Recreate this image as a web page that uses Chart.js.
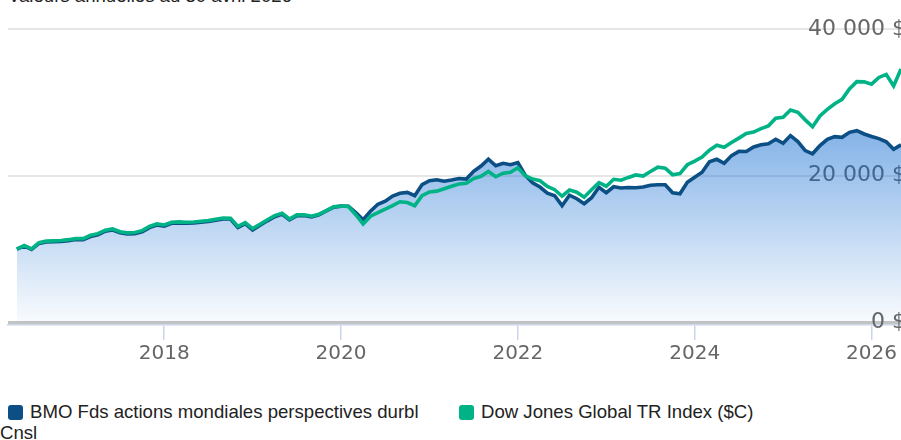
<!DOCTYPE html>
<html><head><meta charset="utf-8">
<script src="https://cdn.jsdelivr.net/npm/chart.js@4"></script>
<style>
html,body{margin:0;padding:0;width:901px;height:440px;overflow:hidden;background:#fff;font-family:"Liberation Sans",Arial,sans-serif;}
#title{position:absolute;left:8px;top:-15px;font-size:18.6px;line-height:21px;color:#222;white-space:nowrap}
#wrap{position:absolute;left:0;top:0;width:901px;height:368px}
#legend{position:absolute;left:0;top:401px;width:901px;font-size:18.6px;color:#222;line-height:21px}
.item{position:absolute;top:0;width:450px}
.box{display:inline-block;width:15px;height:15px;border-radius:3px;margin-left:8px;margin-right:7px;vertical-align:-2px}
</style></head>
<body>
<div id="title">Valeurs annuelles au 30 avril 2026</div>
<div id="wrap"><canvas id="c"></canvas></div>
<div id="legend"></div>
<script>
const months = [
 '2016-04','2016-05','2016-06','2016-07','2016-08','2016-09','2016-10','2016-11','2016-12',
 '2017-01','2017-02','2017-03','2017-04','2017-05','2017-06','2017-07','2017-08','2017-09','2017-10','2017-11','2017-12',
 '2018-01','2018-02','2018-03','2018-04','2018-05','2018-06','2018-07','2018-08','2018-09','2018-10','2018-11','2018-12',
 '2019-01','2019-02','2019-03','2019-04','2019-05','2019-06','2019-07','2019-08','2019-09','2019-10','2019-11','2019-12',
 '2020-01','2020-02','2020-03','2020-04','2020-05','2020-06','2020-07','2020-08','2020-09','2020-10','2020-11','2020-12',
 '2021-01','2021-02','2021-03','2021-04','2021-05','2021-06','2021-07','2021-08','2021-09','2021-10','2021-11','2021-12',
 '2022-01','2022-02','2022-03','2022-04','2022-05','2022-06','2022-07','2022-08','2022-09','2022-10','2022-11','2022-12',
 '2023-01','2023-02','2023-03','2023-04','2023-05','2023-06','2023-07','2023-08','2023-09','2023-10','2023-11','2023-12',
 '2024-01','2024-02','2024-03','2024-04','2024-05','2024-06','2024-07','2024-08','2024-09','2024-10','2024-11','2024-12',
 '2025-01','2025-02','2025-03','2025-04','2025-05','2025-06','2025-07','2025-08','2025-09','2025-10','2025-11','2025-12',
 '2026-01','2026-02','2026-03','2026-04'
];
const seriesNames = ['BMO Fds actions mondiales perspectives durbl Cnsl', 'Dow Jones Global TR Index ($C)'];
const seriesColors = ['#0b4f85', '#00b386'];
const fundValues = [
 10000,10420,9950,10780,10980,11020,11060,11160,11300,11300,
 11720,11950,12440,12600,12220,12060,12100,12360,12930,13280,
 13120,13520,13560,13520,13560,13680,13760,13950,14120,14100,
 12950,13460,12600,13240,13860,14420,14780,13980,14550,14580,
 14400,14680,15200,15720,15860,15840,14970,14010,15170,16120,
 16530,17240,17620,17730,17280,18800,19320,19460,19250,19410,
 19620,19550,20600,21320,22270,21360,21700,21500,21800,20070,
 19050,18460,17620,17280,15920,17350,16870,16190,17000,18440,
 17690,18500,18340,18390,18370,18460,18710,18780,18780,17690,
 17550,19120,19800,20480,21900,22240,21700,22750,23320,23310,
 23920,24220,24350,24970,24420,25470,24650,23430,22990,24110,
 24970,25330,25240,25920,26150,25690,25350,25060,24630,23610,
 24220
];
const indexValues = [
 10000,10480,10030,10880,11090,11130,11180,11290,11430,11430,
 11880,12110,12590,12750,12380,12220,12270,12520,13090,13430,
 13290,13670,13710,13670,13700,13810,13890,14080,14240,14220,
 13100,13610,12790,13400,14010,14560,14900,14110,14670,14690,
 14480,14760,15240,15760,15880,15810,14690,13430,14490,14990,
 15440,15920,16460,16350,15920,17280,17800,17900,18230,18570,
 18880,18980,19620,19930,20590,19860,20350,20480,21090,20000,
 19550,19320,18540,18100,17210,18050,17760,17070,18100,19050,
 18570,19520,19390,19770,20110,19960,20570,21160,21020,20140,
 20300,21500,22000,22540,23490,24150,23880,24520,25130,25760,
 25950,26420,26800,27850,27960,28950,28640,27620,26670,28160,
 29050,29820,30410,31840,32830,32790,32480,33400,33810,32240,
 34560
];
const yTicks = [0, 20000, 40000];
const xTickStep = 2;

function monthToYear(s){ const [y,m] = s.split('-').map(Number); return y + m/12; }
const xs = months.map(monthToYear);
const fundPts = xs.map((x,i)=>({x, y: fundValues[i]}));
const indexPts = xs.map((x,i)=>({x, y: indexValues[i]}));
const xMax = xs[xs.length-1];
const xMin = xMax - 10.1;

function fmt(v){ return String(v).replace(/\B(?=(\d{3})+(?!\d))/g, ' ') + ' $'; }

function fillGradient(context){
  const ca = context.chart.chartArea;
  if(!ca) return 'rgba(8,102,208,0.4)';
  const g = context.chart.ctx.createLinearGradient(0, ca.top, 0, ca.bottom);
  g.addColorStop(0, 'rgba(8,102,208,0.75)');
  g.addColorStop(1, 'rgba(8,102,208,0.02)');
  return g;
}

new Chart(document.getElementById('c'), {
  type: 'line',
  data: { datasets: [
    { label: seriesNames[0], data: fundPts, borderColor: seriesColors[0], borderWidth: 3.6, pointRadius: 0,
      fill: 'origin', backgroundColor: fillGradient, tension: 0, order: 1 },
    { label: seriesNames[1], data: indexPts, borderColor: seriesColors[1], borderWidth: 3.6, pointRadius: 0,
      fill: false, tension: 0, order: 0 }
  ]},
  options: {
    responsive: true, maintainAspectRatio: false, animation: false,
    layout: { padding: { left: 8, top: 29, right: 0, bottom: 0 } },
    plugins: { legend: { display: false }, tooltip: { enabled: false }, title: { display: false } },
    scales: {
      x: { type: 'linear', min: xMin, max: xMax,
        ticks: { stepSize: xTickStep, includeBounds: false, maxRotation: 0, autoSkip: false,
          callback: v => String(v), color: '#666666', padding: 2,
          font: { family: 'DejaVu Sans', size: 20 } },
        grid: { drawOnChartArea: false, drawTicks: true, tickLength: 15, color: '#ccd6eb', lineWidth: 1.5 },
        border: { display: true, color: '#ccd6eb', width: 1.5 } },
      y: { position: 'right', min: -340, max: 40000,
        afterBuildTicks: s => { s.ticks = yTicks.map(v => ({ value: v })); },
        afterFit: s => { s.width = 0; },
        ticks: { mirror: true, padding: 5, color: '#666666', callback: v => fmt(v),
          font: { family: 'DejaVu Sans', size: 22 } },
        grid: { drawTicks: false, color: c => c.tick && c.tick.value === 0 ? '#c4c4c4' : '#e6e6e6',
          lineWidth: c => c.tick && c.tick.value === 0 ? 3 : 2 },
        border: { display: false } }
    }
  }
});

const legend = document.getElementById('legend');
seriesNames.forEach((name, i) => {
  const it = document.createElement('div');
  it.className = 'item';
  it.style.left = (i * 451) + 'px';
  const b = document.createElement('span');
  b.className = 'box';
  b.style.background = seriesColors[i];
  it.appendChild(b);
  it.appendChild(document.createTextNode(name));
  legend.appendChild(it);
});
</script>
</body></html>
